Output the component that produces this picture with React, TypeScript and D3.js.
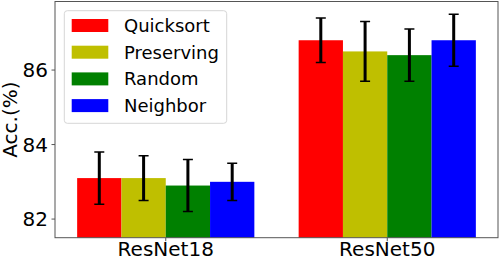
import * as d3 from "d3";
import { useEffect, useRef } from "react";

const groups = ["ResNet18", "ResNet50"];
const methods = ["Quicksort", "Preserving", "Random", "Neighbor"];
const colors = ["#ff0000", "#bfbf00", "#008000", "#0000ff"];
const means = [
  [83.1, 83.1, 82.9, 83.0],
  [86.8, 86.5, 86.4, 86.8],
];
const errs = [
  [0.7, 0.6, 0.7, 0.5],
  [0.6, 0.8, 0.7, 0.7],
];
const yTicks = [82, 84, 86];

export default function App() {
  const ref = useRef<SVGSVGElement | null>(null);

  useEffect(() => {
    const svg = d3.select(ref.current);
    svg.selectAll("*").remove();

    const width = 499;
    const height = 260;
    const left = 55;
    const right = 498;
    const top = 1.5;
    const bottom = 237.7;
    const font = "DejaVu Sans, sans-serif";

    svg.attr("width", width).attr("height", height);

    const x = d3.scaleLinear().domain([-0.5, 1.5]).range([left, right]);
    const y = d3.scaleLinear().domain([81.5, 87.84]).range([bottom, top]);
    const barW = 0.2;

    svg
      .append("defs")
      .append("clipPath")
      .attr("id", "plot")
      .append("rect")
      .attr("x", left)
      .attr("y", top)
      .attr("width", right - left)
      .attr("height", bottom - top);

    const plot = svg.append("g").attr("clip-path", "url(#plot)");

    groups.forEach((g, gi) => {
      methods.forEach((m, mi) => {
        const cx = gi + (mi - 1.5) * barW;
        plot
          .append("rect")
          .attr("x", x(cx - barW / 2))
          .attr("y", y(means[gi][mi]))
          .attr("width", x(cx + barW / 2) - x(cx - barW / 2))
          .attr("height", y(80) - y(means[gi][mi]))
          .attr("fill", colors[mi]);
      });
    });

    // error bars
    groups.forEach((g, gi) => {
      methods.forEach((m, mi) => {
        const cx = x(gi + (mi - 1.5) * barW);
        const lo = y(means[gi][mi] - errs[gi][mi]);
        const hi = y(means[gi][mi] + errs[gi][mi]);
        plot
          .append("line")
          .attr("x1", cx)
          .attr("x2", cx)
          .attr("y1", lo)
          .attr("y2", hi)
          .attr("stroke", "#000")
          .attr("stroke-width", 3);
        [lo, hi].forEach((v) => {
          plot
            .append("line")
            .attr("x1", cx - 5)
            .attr("x2", cx + 5)
            .attr("y1", v)
            .attr("y2", v)
            .attr("stroke", "#000")
            .attr("stroke-width", 1.5);
        });
      });
    });

    // spines
    svg
      .append("rect")
      .attr("x", left)
      .attr("y", top)
      .attr("width", right - left)
      .attr("height", bottom - top)
      .attr("fill", "none")
      .attr("stroke", "#555")
      .attr("stroke-width", 1);

    // y ticks
    yTicks.forEach((t) => {
      svg
        .append("line")
        .attr("x1", left - 3.5)
        .attr("x2", left)
        .attr("y1", y(t))
        .attr("y2", y(t))
        .attr("stroke", "#555");
      svg
        .append("text")
        .attr("x", left - 7)
        .attr("y", y(t))
        .attr("dy", "0.36em")
        .attr("text-anchor", "end")
        .attr("font-family", font)
        .attr("font-size", 20)
        .attr("fill", "#000")
        .text(t);
    });

    // x ticks
    groups.forEach((g, gi) => {
      svg
        .append("line")
        .attr("x1", x(gi))
        .attr("x2", x(gi))
        .attr("y1", bottom)
        .attr("y2", bottom + 3.5)
        .attr("stroke", "#555");
      svg
        .append("text")
        .attr("x", x(gi))
        .attr("y", 256)
        .attr("text-anchor", "middle")
        .attr("font-family", font)
        .attr("font-size", 20)
        .attr("fill", "#000")
        .text(g);
    });

    // y label
    svg
      .append("text")
      .attr("transform", `translate(17, ${(top + bottom) / 2}) rotate(-90)`)
      .attr("text-anchor", "middle")
      .attr("font-family", font)
      .attr("font-size", 20)
      .attr("fill", "#000")
      .text("Acc.(%)");

    // legend
    const lg = svg.append("g");
    lg.append("rect")
      .attr("x", 64.3)
      .attr("y", 10.7)
      .attr("width", 162.4)
      .attr("height", 112.6)
      .attr("rx", 3)
      .attr("fill", "#fff")
      .attr("fill-opacity", 0.8)
      .attr("stroke", "#d6d6d6");
    methods.forEach((m, mi) => {
      const cy = 25.5 + mi * 26.7;
      lg.append("rect")
        .attr("x", 71.7)
        .attr("y", cy - 6.5)
        .attr("width", 36.6)
        .attr("height", 13)
        .attr("fill", colors[mi]);
      lg.append("text")
        .attr("x", 124)
        .attr("y", cy)
        .attr("dy", "0.36em")
        .attr("font-family", font)
        .attr("font-size", 18)
        .attr("fill", "#000")
        .text(m);
    });
  }, []);

  return (
    <svg
      ref={ref}
      style={{ position: "absolute", left: 0, top: 0, display: "block" }}
    ></svg>
  );
}
